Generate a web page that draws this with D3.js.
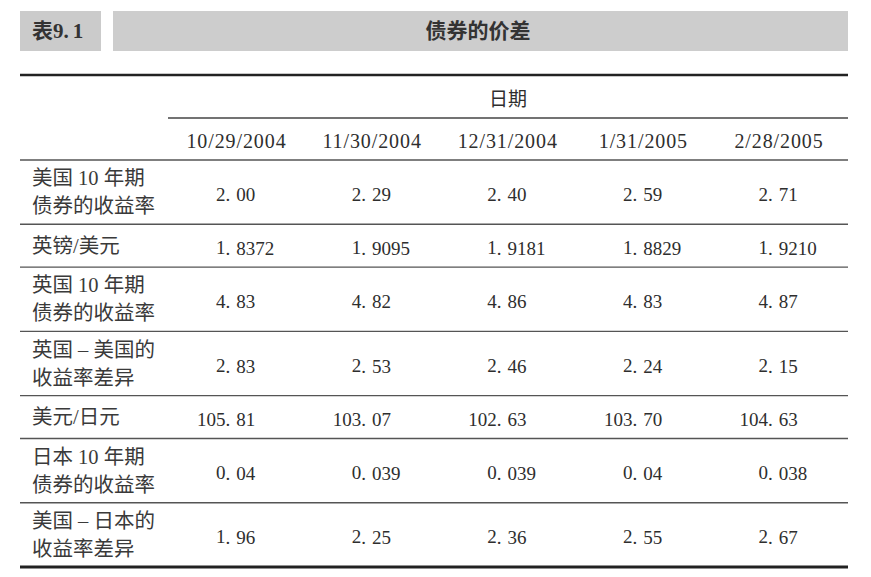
<!DOCTYPE html>
<html>
<head>
<meta charset="utf-8">
<script src="https://cdn.jsdelivr.net/npm/d3@7"></script>
<style>
  html, body { margin: 0; padding: 0; background: #ffffff; }
  svg { display: block; }
</style>
</head>
<body>
<svg id="chart" width="871" height="577"></svg>
<script>
// ---- data ----
const tableNoPrefix = "表";
const tableNoNumber = "9.1";
const tableTitle = "债券的价差";
const headerTitle = "日期";
const dates = ["10/29/2004", "11/30/2004", "12/31/2004", "1/31/2005", "2/28/2005"];
const rowLabels = [
  ["美国 10 年期", "债券的收益率"],
  ["英镑/美元"],
  ["英国 10 年期", "债券的收益率"],
  ["英国 – 美国的", "收益率差异"],
  ["美元/日元"],
  ["日本 10 年期", "债券的收益率"],
  ["美国 – 日本的", "收益率差异"]
];
const usYield    = ["2.00", "2.29", "2.40", "2.59", "2.71"];
const gbpUsd     = ["1.8372", "1.9095", "1.9181", "1.8829", "1.9210"];
const ukYield    = ["4.83", "4.82", "4.86", "4.83", "4.87"];
const ukUsSpread = ["2.83", "2.53", "2.46", "2.24", "2.15"];
const usdJpy     = ["105.81", "103.07", "102.63", "103.70", "104.63"];
const jpYield    = ["0.04", "0.039", "0.039", "0.04", "0.038"];
const usJpSpread = ["1.96", "2.25", "2.36", "2.55", "2.67"];
const rowValues = [usYield, gbpUsd, ukYield, ukUsSpread, usdJpy, jpYield, usJpSpread];

// ---- layout ----
const svg = d3.select("#chart");
const FONT = "'Liberation Serif', 'Noto Sans CJK SC', serif";
const INK = "#2e2e2e";
const left = 20, right = 848;

// title boxes
svg.append("rect").attr("x", 20).attr("y", 11).attr("width", 81).attr("height", 40).attr("fill", "#cbcbcb");
svg.append("rect").attr("x", 113).attr("y", 11).attr("width", right - 113).attr("height", 40).attr("fill", "#cdcdcd");
const tn = svg.append("text").attr("x", 32).attr("y", 31).attr("dominant-baseline", "central")
  .attr("font-family", FONT).attr("font-weight", "bold").attr("font-size", 21).attr("fill", "#333");
const [tnA, tnB] = tableNoNumber.split(".");
tn.append("tspan").text(tableNoPrefix);
tn.append("tspan").text(tnA + ".");
tn.append("tspan").attr("dx", 4).text(tnB);
svg.append("text").attr("x", 478).attr("y", 31).attr("dominant-baseline", "central").attr("text-anchor", "middle")
  .attr("font-family", FONT).attr("font-weight", "bold").attr("font-size", 21).attr("fill", "#333")
  .text(tableTitle);

// scales
const x = d3.scalePoint().domain(dates).range([236.5, 779]);
const units = rowLabels.map(r => r.length === 2 ? 1.5 : 1);
const cum = [0]; units.forEach((u, i) => cum.push(cum[i] + u));
const y = d3.scaleLinear().domain([0, d3.sum(units)]).range([160, 567]);

// rules
function rule(x1, x2, yy, w, c) {
  svg.append("line").attr("x1", x1).attr("x2", x2).attr("y1", yy).attr("y2", yy)
    .attr("stroke", c).attr("stroke-width", w);
}
rule(left, right, 75, 2.6, "#222");
rule(168, right, 118, 1.4, "#444");
cum.slice(0, -1).forEach(c => rule(left, right, y(c), 1.4, "#555"));
rule(left, right, y(cum[cum.length - 1]), 2.8, "#222");

// header
svg.append("text").attr("x", 508).attr("y", 97).attr("dominant-baseline", "central").attr("text-anchor", "middle")
  .attr("font-family", "'Noto Sans CJK SC', sans-serif").attr("font-size", 19).attr("fill", INK)
  .text(headerTitle);
svg.selectAll("text.date").data(dates).join("text").attr("class", "date")
  .attr("x", d => x(d)).attr("y", 141).attr("dominant-baseline", "central").attr("text-anchor", "middle")
  .attr("font-family", FONT).attr("font-size", 20).attr("letter-spacing", 0.9).attr("fill", INK)
  .text(d => d);

// rows
rowLabels.forEach((lines, i) => {
  const cy = (y(cum[i]) + y(cum[i + 1])) / 2;
  lines.forEach((ln, j) => {
    const ly = lines.length === 2 ? cy + (j === 0 ? -14 : 14) : cy;
    svg.append("text").attr("x", 32).attr("y", ly).attr("dominant-baseline", "central")
      .attr("font-family", FONT).attr("font-size", 20.5).attr("fill", "#3a3a3a")
      .text(ln);
  });
  rowValues[i].forEach((v, k) => {
    const decX = x(dates[k]) - 11;
    const [ip, fp] = v.split(".");
    const vy = cy + 2;
    svg.append("text").attr("x", decX).attr("y", vy).attr("dominant-baseline", "central").attr("text-anchor", "end")
      .attr("font-family", FONT).attr("font-size", 19).attr("fill", INK).text(ip);
    const t = svg.append("text").attr("x", decX).attr("y", vy).attr("dominant-baseline", "central")
      .attr("font-family", FONT).attr("font-size", 19).attr("fill", INK);
    t.append("tspan").text(".");
    t.append("tspan").attr("dx", 6).text(fp);
  });
});
</script>
</body>
</html>
